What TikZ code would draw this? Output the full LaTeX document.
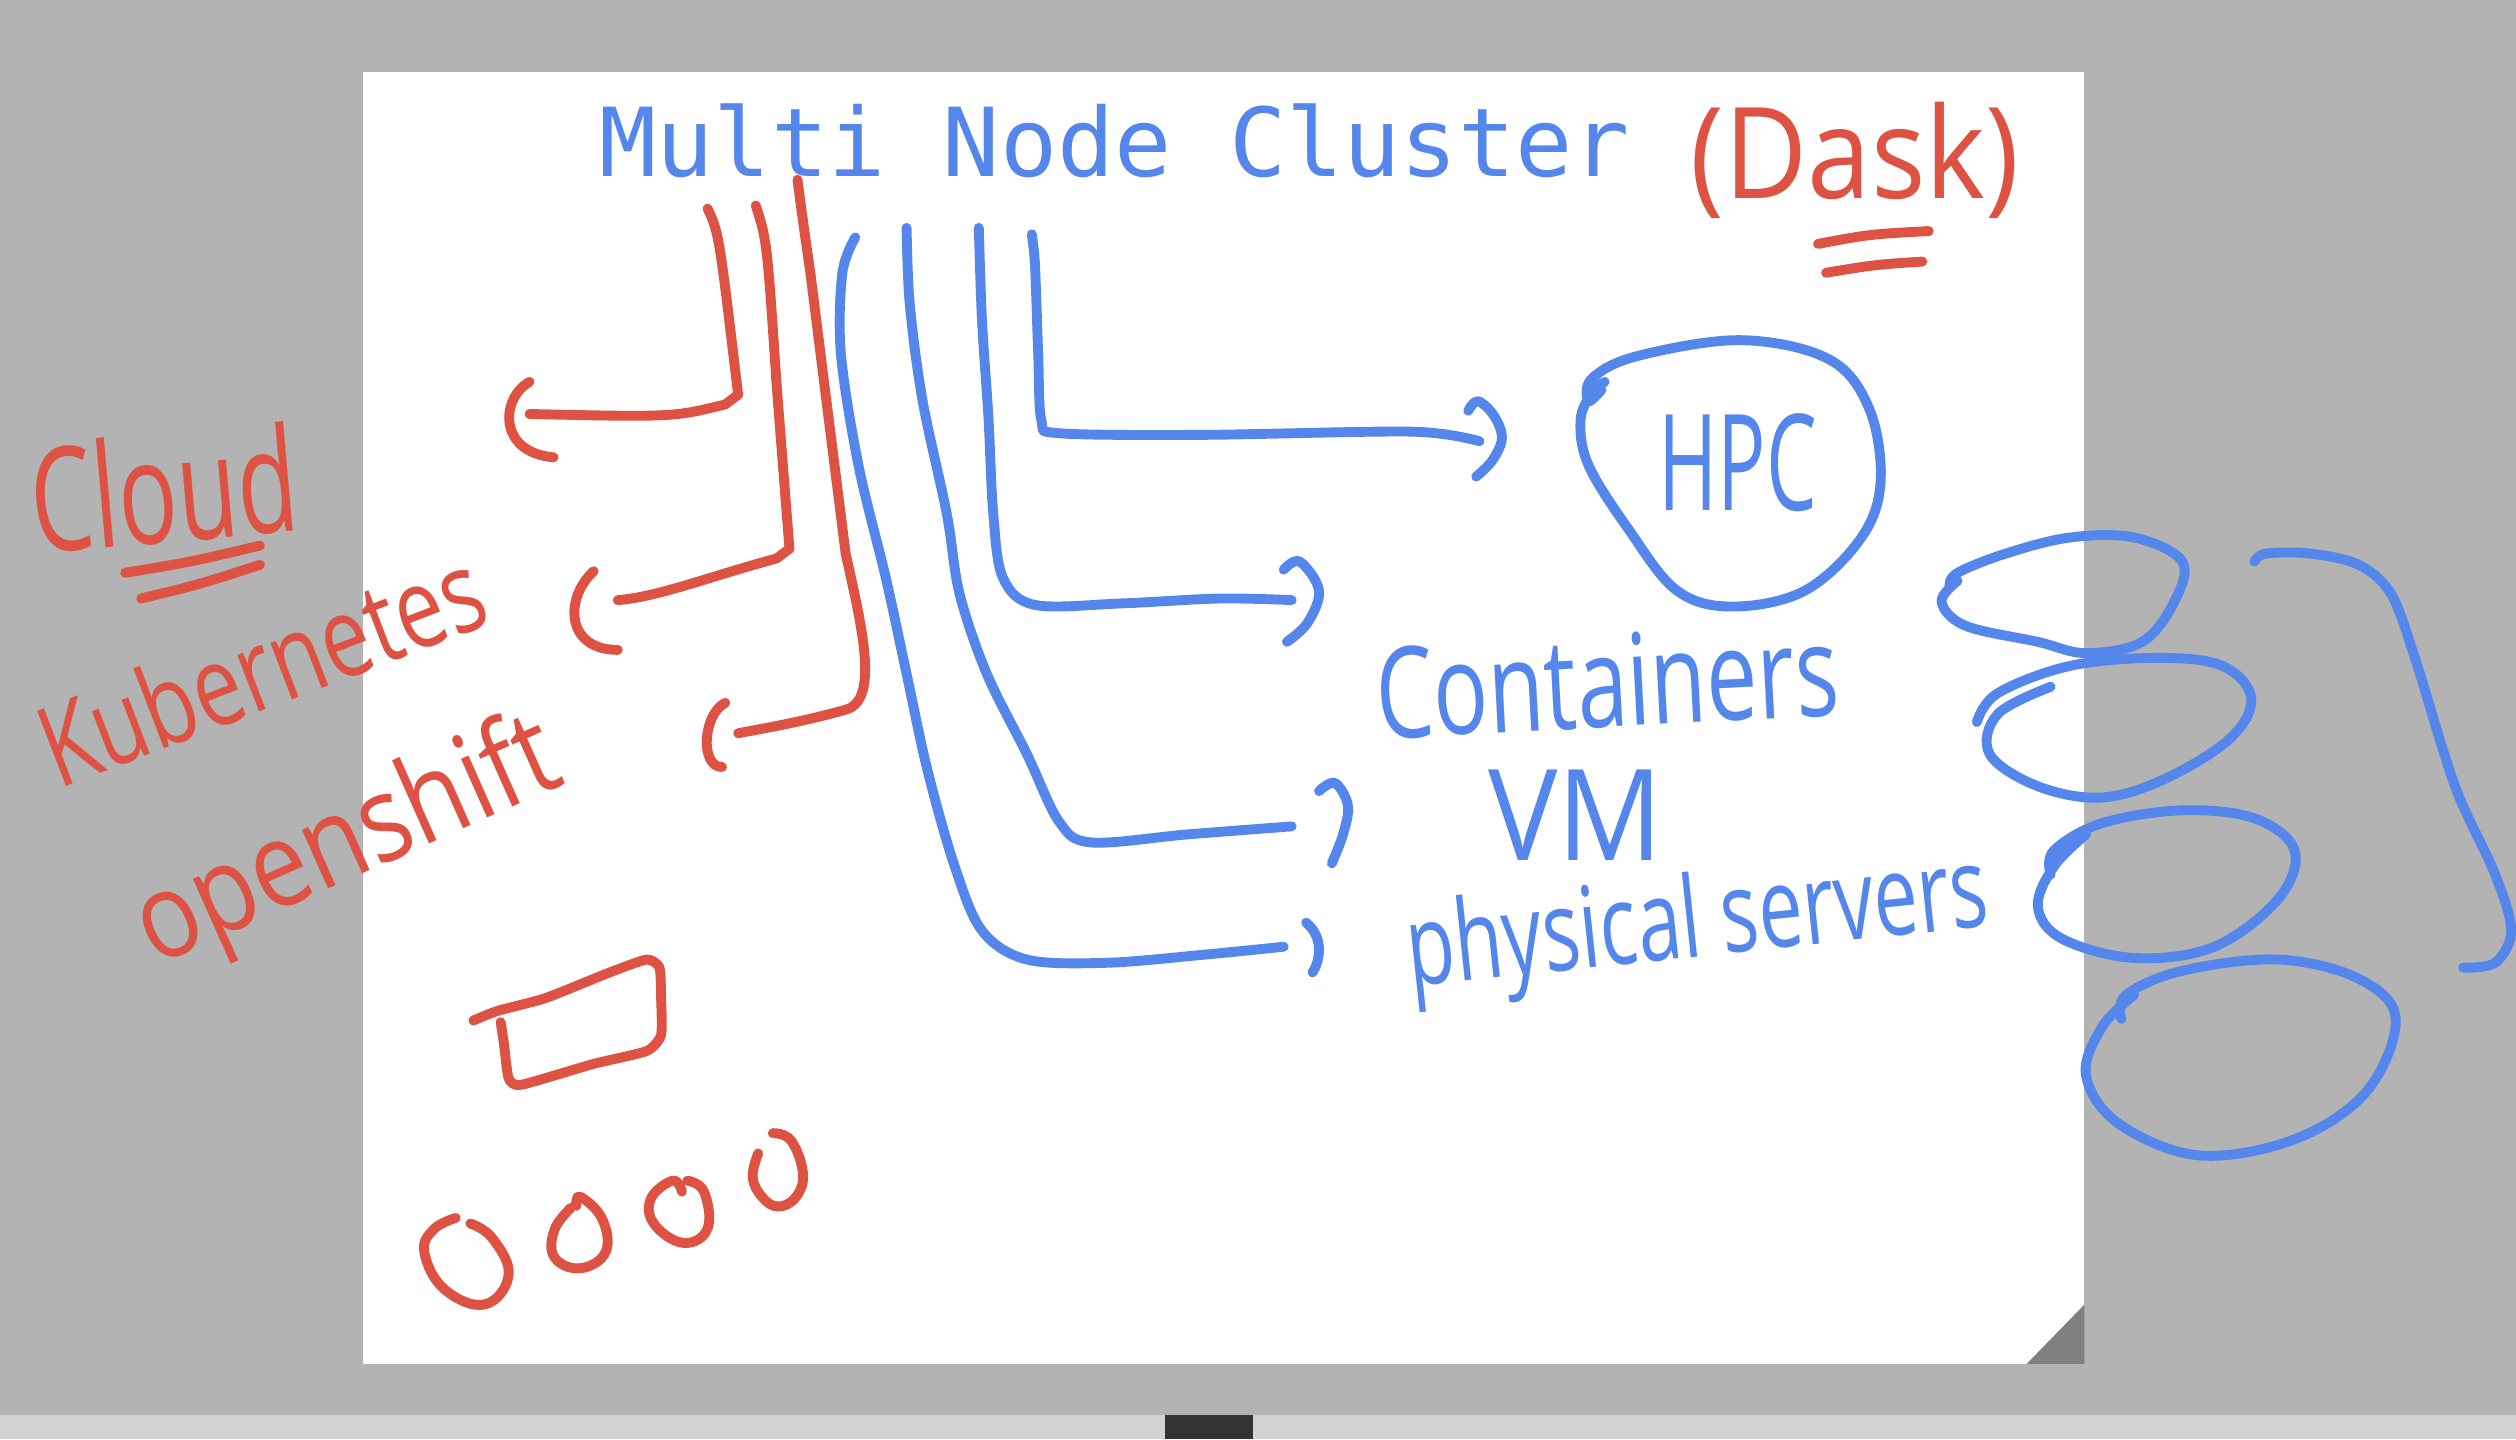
\documentclass[tikz,border=0pt]{standalone}
\usepackage{fontspec}
\usepackage{graphicx}
\usetikzlibrary{calc}
\newfontfamily\titlefont{DejaVu Sans Mono}
\newfontfamily\handfont{Open Sans}
\definecolor{inkred}{RGB}{222,82,68}
\definecolor{inkblue}{RGB}{85,134,235}
\definecolor{deskgray}{RGB}{179,179,179}
\definecolor{stripgray}{RGB}{211,211,211}
\definecolor{curlgray}{RGB}{128,128,128}
\definecolor{barblack}{RGB}{51,51,51}

\tikzset{
  redpen/.style={draw=inkred, line width=2.8pt, line cap=round, line join=round},
  bluepen/.style={draw=inkblue, line width=2.8pt, line cap=round, line join=round},
  redword/.style={text=inkred, inner sep=0pt, anchor=base},
  blueword/.style={text=inkblue, inner sep=0pt, anchor=base},
  titleword/.style={text=inkblue, inner sep=0pt, anchor=base west,
    font=\fontsize{27}{27}\selectfont\titlefont},
}
% handwriting: x squeeze, size in pt, text
\newcommand{\handword}[3]{\scalebox{#1}[1]{\fontsize{#2}{#2}\selectfont\handfont #3}}

\begin{document}
\begin{tikzpicture}[x=0.016cm, y=-0.016cm]
\useasboundingbox (0,0) rectangle (1568,897);

% desk, sheet and bottom bar
\fill[deskgray] (0,0) rectangle (1568,897);
\fill[stripgray] (0,882) rectangle (1568,897);
\fill[barblack] (726,882) rectangle (781,897);
\fill[white] (226,45) rectangle (1299,850);
\fill[curlgray] (1263,850) -- (1299,850) -- (1299,813) -- cycle;

% labels
\node[titleword] (title) at (373,110) {Multi Node Cluster};
\node[redword] (dask) at (1156,124) {\handword{0.9}{36}{(Dask)}};
\node[redword, rotate=5] (cloud) at (105,338) {\handword{0.68}{41}{Cloud}};
\node[redword, rotate=21] (kube) at (172,440) {\handword{0.77}{32}{Kubernetes}};
\node[redword, rotate=24] (oshift) at (225,545) {\handword{0.85}{34}{openshift}};
\node[blueword] (hpc) at (1083,318) {\handword{0.6}{38}{HPC}};
\node[blueword, rotate=3] (containers) at (1003,453) {\handword{0.72}{36}{Containers}};
\node[blueword] (vm) at (982,536) {\handword{0.92}{36}{VM}};
\node[blueword, rotate=6] (physical) at (1060,596) {\handword{0.7}{32}{physical servers}};

% tails under the title, tips at the arrow heads
\coordinate (cloudtail) at (441,130);
\coordinate (cloudtip) at (330,258);
\coordinate (kubetail) at (471,128);
\coordinate (kubetip) at (385,374);
\coordinate (shifttail) at (497,112);
\coordinate (shifttip) at (460,457);
\coordinate (physicaltail) at (533,148);
\coordinate (physicaltip) at (800,590);
\coordinate (vmtail) at (565,142);
\coordinate (vmtip) at (805,515);
\coordinate (containtail) at (610,142);
\coordinate (containtip) at (805,374);
\coordinate (hpctail) at (643,146);
\coordinate (hpctip) at (922,275);

% red branches
\draw[redpen] (cloudtail) .. controls (448,145) .. (460,246) -- (452,252)
  .. controls (420,260) .. (cloudtip);
\draw[redpen] (330,238) .. controls (312,248) and (310,282) .. (345,285);
\draw[redpen] (kubetail) .. controls (478,150) .. (484,240) -- (492,342) -- (484,348)
  .. controls (440,360) and (410,372) .. (kubetip);
\draw[redpen] (370,356) .. controls (352,372) and (352,405) .. (385,405);
\draw[redpen] (shifttail) .. controls (500,135) .. (505,170) -- (527,345)
  .. controls (537,390) and (548,435) .. (528,442)
  .. controls (500,450) and (475,454) .. (shifttip);
\draw[redpen] (452,438) .. controls (438,445) and (436,478) .. (450,478);

% blue branches
\draw[bluepen] plot[smooth, tension=0.55] coordinates {(physicaltail) (525,170) (524,220)
  (535,290) (552,360) (565,420) (578,480) (595,540) (612,580) (640,598) (690,600)
  (750,595) (physicaltip)};
\draw[bluepen] (814,575) .. controls (826,585) and (822,600) .. (818,606);
\draw[bluepen] plot[smooth, tension=0.55] coordinates {(vmtail) (567,190) (575,250)
  (590,320) (598,370) (615,420) (640,470) (660,512) (680,525) (740,520) (vmtip)};
\draw[bluepen] plot[smooth, tension=0.6] coordinates {(822,493) (832,488) (840,502)
  (837,520) (830,538)};
\draw[bluepen] plot[smooth, tension=0.55] coordinates {(containtail) (612,200) (616,260)
  (619,320) (625,360) (645,377) (700,376) (760,373) (containtip)};
\draw[bluepen] plot[smooth, tension=0.6] coordinates {(800,355) (810,350) (822,368)
  (815,388) (802,400)};
\draw[bluepen] plot[smooth, tension=0.5] coordinates {(hpctail) (645,165) (647,220)
  (649,262) (660,270) (750,271) (880,269) (hpctip)};
\draw[bluepen] plot[smooth, tension=0.6] coordinates {(915,256) (921,250) (931,259)
  (936,273) (930,287) (920,297)};

% blob round HPC
\draw[bluepen] plot[smooth, tension=0.6] coordinates {(998,243) (990,250) (992,236)
  (1020,222) (1085,212) (1140,224) (1165,255) (1172,300) (1160,335) (1125,368)
  (1080,378) (1045,368) (1015,330) (990,290) (985,262) (992,245) (1000,238)};

% underlines
\draw[redpen] (1133,152) .. controls (1165,146) .. (1202,144);
\draw[redpen] (1138,170) .. controls (1168,165) .. (1198,163);
\draw[redpen] (78,357) .. controls (120,350) .. (162,340);
\draw[redpen] (88,373) .. controls (125,364) .. (162,352);

% box and circles
\draw[redpen] plot[smooth, tension=0.35] coordinates {(295,636) (310,630) (340,622)
  (380,606) (403,598) (411,603) (412,622) (412,645) (403,655) (370,663) (325,676)
  (317,672) (314,650) (312,637)};
\draw[redpen] plot[smooth, tension=0.7] coordinates {(284.0,759.0) (270.1,766.3)
  (264.5,780.7) (277.1,803.6) (302.2,812.9) (317.0,794.4) (306.8,771.6) (293.1,762.5)};
\draw[redpen] plot[smooth, tension=0.7] coordinates {(359.2,751.5) (361.6,745.8)
  (375.2,759.5) (377.5,780.1) (361.6,790.4) (345.5,783.5) (345.5,766.5) (355.8,752.7)};
\draw[redpen] plot[smooth, tension=0.7] coordinates {(425.0,742.6) (419.3,735.8)
  (405.6,747.1) (407.9,763.1) (426.1,774.6) (441.0,765.5) (438.7,742.6) (428.4,735.8)};
\draw[redpen] plot[smooth, tension=0.7] coordinates {(472.5,718.8) (469.1,733.6)
  (475,746) (485.0,751.9) (496,746) (500.4,731.3) (493.0,710.8) (481.6,706.2)};

% stacked loops and bracket on the right
\draw[bluepen] plot[smooth, tension=0.6] coordinates {(1220,362) (1210,375) (1225,390)
  (1270,400) (1300,407) (1335,400) (1355,375) (1360,350) (1330,335) (1290,335)
  (1250,345) (1220,357) (1215,365)};
\draw[bluepen] plot[smooth, tension=0.6] coordinates {(1278,428) (1245,445) (1240,470)
  (1270,490) (1310,497) (1350,485) (1390,460) (1403,435) (1385,415) (1345,410)
  (1290,415) (1245,432) (1232,450)};
\draw[bluepen] plot[smooth, tension=0.6] coordinates {(1300,520) (1280,540) (1270,565)
  (1285,585) (1330,597) (1380,590) (1420,560) (1430,530) (1405,510) (1360,505)
  (1310,513) (1280,530) (1278,545)};
\draw[bluepen] plot[smooth, tension=0.6] coordinates {(1330,620) (1310,640) (1300,670)
  (1320,700) (1370,720) (1430,710) (1475,680) (1493,635) (1470,610) (1420,598)
  (1360,605) (1325,620) (1322,635)};
\draw[bluepen] plot[smooth, tension=0.55] coordinates {(1405,350) (1412,345) (1440,345)
  (1470,352) (1490,370) (1505,410) (1530,490) (1555,545) (1565,580) (1555,600)
  (1535,603)};
\end{tikzpicture}
\end{document}
